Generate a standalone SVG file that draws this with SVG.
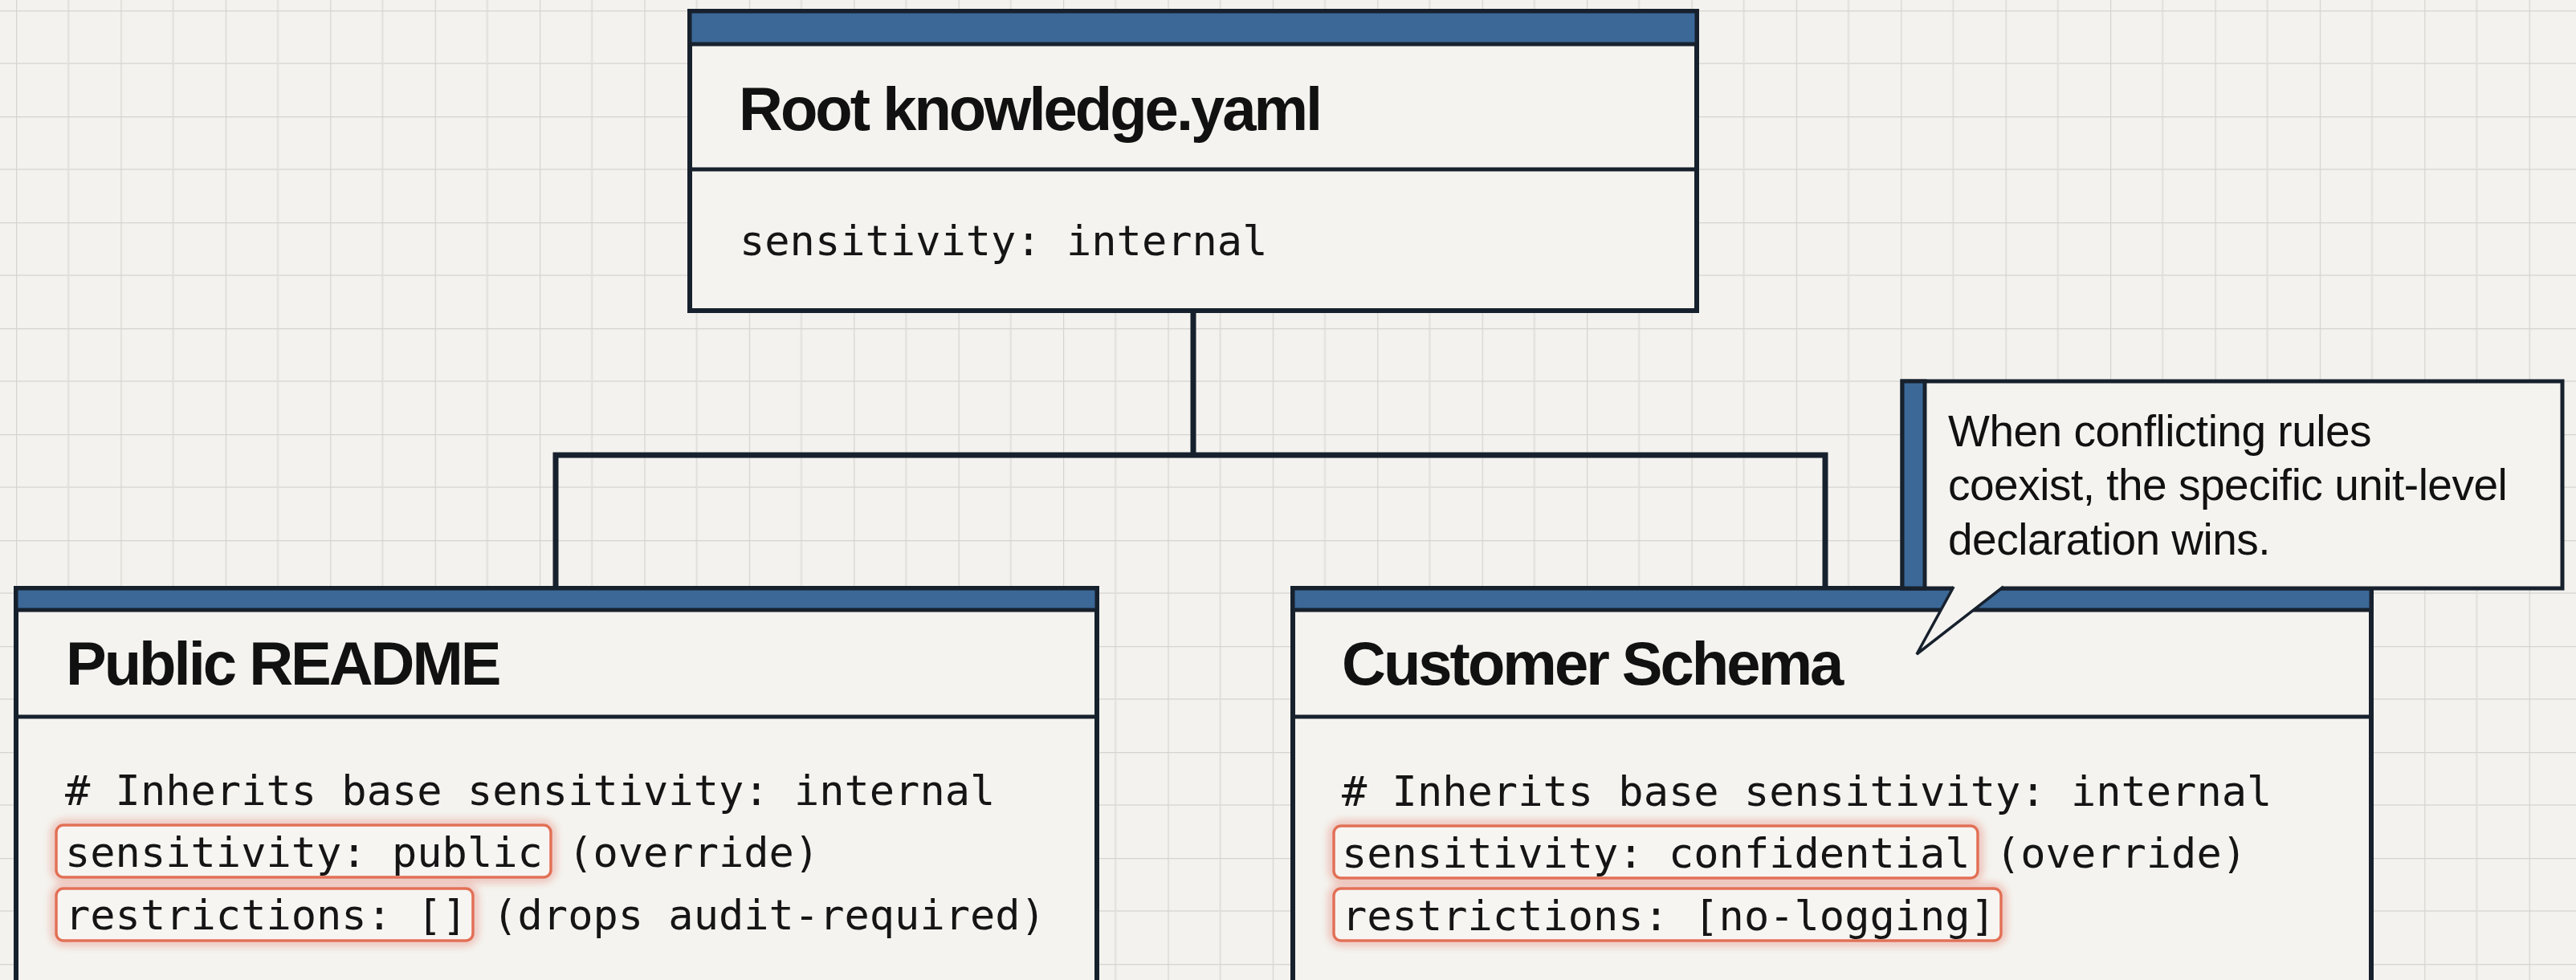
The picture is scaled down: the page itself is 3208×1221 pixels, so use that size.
<svg xmlns="http://www.w3.org/2000/svg" width="3208" height="1221" viewBox="0 0 3208 1221">
<defs>
<pattern id="grid" patternUnits="userSpaceOnUse" x="20" y="13" width="130.4" height="132">
<rect width="130.4" height="132" fill="#f3f2ee"/>
<line x1="65.2" y1="0" x2="65.2" y2="132" stroke="#e1dfdb" stroke-width="2"/>
<line x1="0" y1="66" x2="130.4" y2="66" stroke="#e1dfdb" stroke-width="2"/>
<line x1="0" y1="0" x2="0" y2="132" stroke="#d6d4cf" stroke-width="2.4"/>
<line x1="0" y1="0" x2="130.4" y2="0" stroke="#d6d4cf" stroke-width="2.4"/>
</pattern>
<filter id="glow" x="-10%" y="-50%" width="120%" height="200%">
<feGaussianBlur in="SourceGraphic" stdDeviation="6" result="b"/>
<feMerge><feMergeNode in="b"/><feMergeNode in="b"/><feMergeNode in="SourceGraphic"/></feMerge>
</filter>
</defs>
<style>
.box{fill:#f4f3ef;stroke:#17212d;stroke-width:6}
.band{fill:#3b6897;stroke:#17212d;stroke-width:5}
.div{stroke:#17212d;stroke-width:5}
.title{font-family:"Liberation Sans",Arial,sans-serif;font-weight:bold;font-size:76px;letter-spacing:-3px;fill:#111}
.mono{font-family:"DejaVu Sans Mono","Liberation Mono",monospace;font-size:52px;fill:#151515}
.hl{fill:#f7f5f2;stroke:#e26f55;stroke-width:3.5}
.note{font-family:"Liberation Sans",Arial,sans-serif;font-size:55px;fill:#111;letter-spacing:-0.5px}
.conn{fill:none;stroke:#17212d;stroke-width:7}
</style>
<rect width="3208" height="1221" fill="url(#grid)"/>
<g id="connectors">
<path class="conn" d="M1486,387 V567"/>
<path class="conn" d="M692,736 V567 H2273 V736"/>
</g>
<g id="root">
<rect class="box" x="859" y="14" width="1254" height="373"/>
<rect class="band" x="859" y="14" width="1254" height="41"/>
<line class="div" x1="859" y1="211" x2="2113" y2="211"/>
<text class="title" x="920" y="162">Root knowledge.yaml</text>
<text class="mono" x="921" y="318">sensitivity: internal</text>
</g>
<g id="public-readme">
<rect class="box" x="20" y="733" width="1346" height="520"/>
<rect class="band" x="20" y="733" width="1346" height="27"/>
<line class="div" x1="20" y1="893" x2="1366" y2="893"/>
<text class="title" x="82" y="853">Public README</text>
<rect class="hl" filter="url(#glow)" x="70" y="1028" width="616" height="65" rx="9"/>
<rect class="hl" filter="url(#glow)" x="70" y="1107" width="519" height="65" rx="9"/>
<text class="mono" x="81" y="1003">
<tspan x="81" y="1003"># Inherits base sensitivity: internal</tspan>
<tspan x="81" y="1080">sensitivity: public (override)</tspan>
<tspan x="81" y="1158">restrictions: [] (drops audit-required)</tspan>
</text>
</g>
<g id="customer-schema">
<rect class="box" x="1610" y="733" width="1343" height="520"/>
<rect class="band" x="1610" y="733" width="1343" height="27"/>
<line class="div" x1="1610" y1="893" x2="2953" y2="893"/>
<text class="title" x="1671" y="853">Customer Schema</text>
<rect class="hl" filter="url(#glow)" x="1661" y="1029" width="802" height="65" rx="9"/>
<rect class="hl" filter="url(#glow)" x="1661" y="1107" width="831" height="65" rx="9"/>
<text class="mono" x="1671" y="1004">
<tspan x="1671" y="1004"># Inherits base sensitivity: internal</tspan>
<tspan x="1671" y="1081">sensitivity: confidential (override)</tspan>
<tspan x="1671" y="1159">restrictions: [no-logging]</tspan>
</text>
</g>
<g id="callout">
<rect x="2369" y="475" width="822" height="258" fill="#f4f3ef" stroke="#17212d" stroke-width="5"/>
<rect x="2369" y="475" width="28" height="258" fill="#3b6897" stroke="#17212d" stroke-width="5"/>
<polygon points="2433,729 2387,815 2495,729" fill="#f4f3ef"/>
<polyline points="2433,731 2387,815 2495,731" fill="none" stroke="#17212d" stroke-width="3.5" stroke-linejoin="miter"/>
<text class="note">
<tspan x="2426" y="556">When conflicting rules</tspan>
<tspan x="2426" y="623">coexist, the specific unit-level</tspan>
<tspan x="2426" y="691">declaration wins.</tspan>
</text>
</g>
</svg>
